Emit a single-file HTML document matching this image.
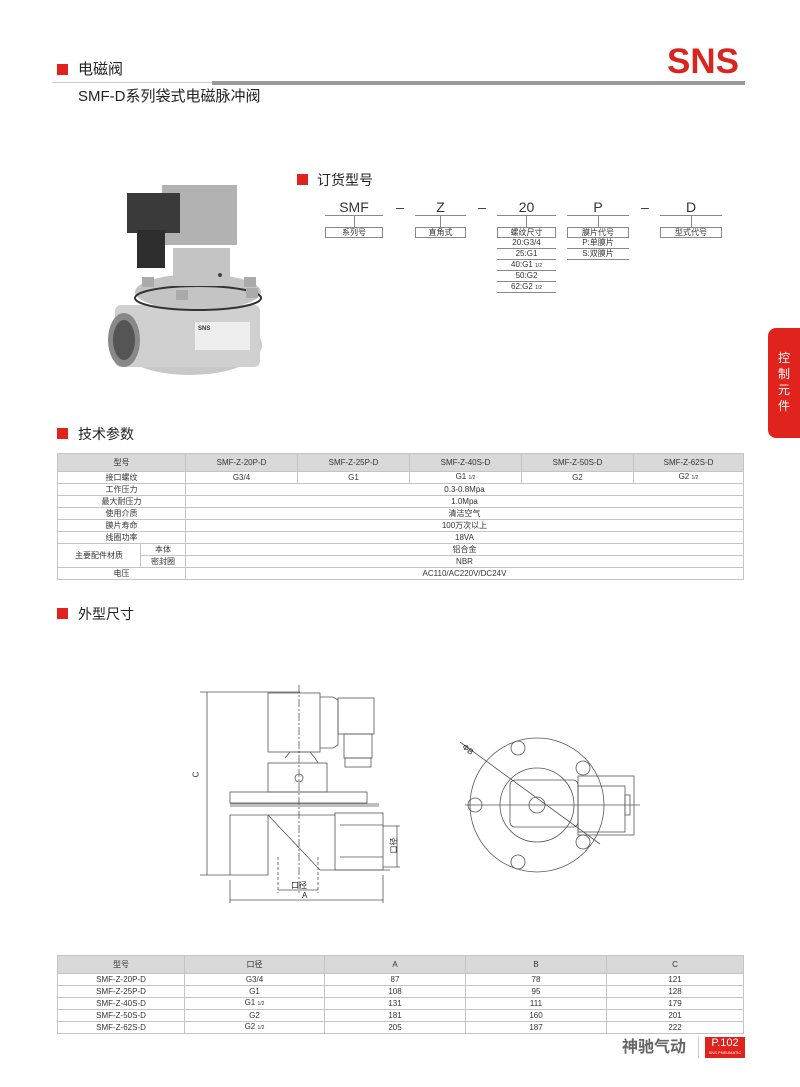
<!DOCTYPE html>
<html><head><meta charset="utf-8"><style>
*{margin:0;padding:0;box-sizing:border-box}
body{width:800px;height:1087px;background:#fff;position:relative;overflow:hidden;font-family:"Liberation Sans","Noto Sans CJK SC",sans-serif;color:#222}
.a{position:absolute}
.sq{position:absolute;width:11px;height:11px;background:#e0231d}
.t{position:absolute;font-size:14px;line-height:14px;color:#222}
table{position:absolute;border-collapse:collapse;font-size:8px;color:#333}
td{border:1px solid #c4c4c4;text-align:center;height:12px;padding:0;line-height:10px}
tr.h td{background:#d9d9d9;height:18px}
.sub{font-size:5px}
.box{position:absolute;height:11px;border:1px solid #888;font-size:8px;line-height:9px;text-align:center;color:#333}
.ul{position:absolute;height:1px;background:#888}
.ct{position:absolute;font-size:14px;text-align:center;color:#333;line-height:14px}
.it{position:absolute;font-size:8px;text-align:center;color:#333;line-height:10px;border-bottom:1px solid #888;height:11px}
</style></head><body>
<div class="sq" style="left:57px;top:64px"></div>
<div class="t" style="left:78px;top:63px;font-size:15px">电磁阀</div>
<div class="a" style="left:52px;top:82px;width:160px;height:1px;background:#ccc"></div>
<div class="a" style="left:212px;top:81px;width:533px;height:4px;background:#999"></div>
<div class="a" style="left:667px;top:44px;font-size:35px;font-weight:bold;color:#d8261f;line-height:36px">SNS</div>
<div class="t" style="left:78px;top:90px;font-size:15px">SMF-D系列袋式电磁脉冲阀</div>

<svg class="a" style="left:100px;top:175px" width="180" height="205" viewBox="100 175 180 205">
<ellipse cx="190" cy="345" rx="72" ry="30" fill="#c8c8c8"/>
<rect x="115" y="305" width="145" height="62" rx="6" fill="#d0d0d0"/>
<ellipse cx="124" cy="340" rx="16" ry="27" fill="#888"/>
<ellipse cx="124" cy="340" rx="11" ry="20" fill="#555"/>
<ellipse cx="198" cy="292" rx="63" ry="18" fill="#c4c4c4"/>
<ellipse cx="198" cy="298" rx="63" ry="12" fill="none" stroke="#333" stroke-width="2"/>
<rect x="173" y="248" width="57" height="38" fill="#c4c4c4"/>
<circle cx="220" cy="275" r="2" fill="#444"/>
<rect x="142" y="277" width="12" height="10" fill="#aaa"/><rect x="244" y="277" width="12" height="10" fill="#aaa"/>
<rect x="176" y="290" width="12" height="10" fill="#aaa"/><rect x="246" y="288" width="12" height="10" fill="#aaa"/>
<rect x="162" y="185" width="75" height="60" fill="#b2b2b2"/>
<rect x="127" y="193" width="53" height="40" fill="#3a3a3a"/>
<rect x="137" y="230" width="28" height="38" fill="#2e2e2e"/>
<rect x="195" y="322" width="55" height="28" fill="#eee"/>
<text x="198" y="330" font-size="6" fill="#333" font-weight="bold">SNS</text>
</svg>

<div class="sq" style="left:297px;top:174px"></div>
<div class="t" style="left:317px;top:173px">订货型号</div>
<div class="ct" style="left:325px;top:200px;width:58px">SMF</div><div class="ul" style="left:325px;top:215px;width:58px"></div>
<div class="ct" style="left:390px;top:200px;width:20px">–</div>
<div class="ct" style="left:415px;top:200px;width:51px">Z</div><div class="ul" style="left:415px;top:215px;width:51px"></div>
<div class="ct" style="left:472px;top:200px;width:20px">–</div>
<div class="ct" style="left:497px;top:200px;width:59px">20</div><div class="ul" style="left:497px;top:215px;width:59px"></div>
<div class="ct" style="left:567px;top:200px;width:62px">P</div><div class="ul" style="left:567px;top:215px;width:62px"></div>
<div class="ct" style="left:635px;top:200px;width:20px">–</div>
<div class="ct" style="left:660px;top:200px;width:62px">D</div><div class="ul" style="left:660px;top:215px;width:62px"></div>
<div class="a" style="left:354px;top:215px;width:1px;height:12px;background:#888"></div>
<div class="a" style="left:440px;top:215px;width:1px;height:12px;background:#888"></div>
<div class="a" style="left:526px;top:215px;width:1px;height:12px;background:#888"></div>
<div class="a" style="left:598px;top:215px;width:1px;height:12px;background:#888"></div>
<div class="a" style="left:691px;top:215px;width:1px;height:12px;background:#888"></div>
<div class="box" style="left:325px;top:227px;width:58px">系列号</div>
<div class="box" style="left:415px;top:227px;width:51px">直角式</div>
<div class="box" style="left:497px;top:227px;width:59px">螺纹尺寸</div>
<div class="box" style="left:567px;top:227px;width:62px">膜片代号</div>
<div class="box" style="left:660px;top:227px;width:62px">型式代号</div>
<div class="it" style="left:497px;top:238px;width:59px">20:G3/4</div>
<div class="it" style="left:497px;top:249px;width:59px">25:G1</div>
<div class="it" style="left:497px;top:260px;width:59px">40:G1 <span class="sub">1/2</span></div>
<div class="it" style="left:497px;top:271px;width:59px">50:G2</div>
<div class="it" style="left:497px;top:282px;width:59px">62:G2 <span class="sub">1/2</span></div>
<div class="it" style="left:567px;top:238px;width:62px">P:单膜片</div>
<div class="it" style="left:567px;top:249px;width:62px">S:双膜片</div>

<div class="a" style="left:768px;top:328px;width:32px;height:110px;background:#e0231d;border-radius:8px 0 0 8px;color:#fff;font-size:12px;line-height:16px;text-align:center;padding-top:22px;width:32px">控<br>制<br>元<br>件</div>

<div class="sq" style="left:57px;top:428px"></div>
<div class="t" style="left:78px;top:427px">技术参数</div>
<table style="left:57px;top:453px;width:687px">
<tr class="h"><td colspan="2" style="width:128px">型号</td><td style="width:112px">SMF-Z-20P-D</td><td style="width:112px">SMF-Z-25P-D</td><td style="width:112px">SMF-Z-40S-D</td><td style="width:112px">SMF-Z-50S-D</td><td>SMF-Z-62S-D</td></tr>
<tr><td colspan="2">接口螺纹</td><td>G3/4</td><td>G1</td><td>G1 <span class="sub">1/2</span></td><td>G2</td><td>G2 <span class="sub">1/2</span></td></tr>
<tr><td colspan="2">工作压力</td><td colspan="5">0.3-0.8Mpa</td></tr>
<tr><td colspan="2">最大耐压力</td><td colspan="5">1.0Mpa</td></tr>
<tr><td colspan="2">使用介质</td><td colspan="5">清洁空气</td></tr>
<tr><td colspan="2">膜片寿命</td><td colspan="5">100万次以上</td></tr>
<tr><td colspan="2">线圈功率</td><td colspan="5">18VA</td></tr>
<tr><td rowspan="2" style="width:83px">主要配件材质</td><td style="width:45px">本体</td><td colspan="5">铝合金</td></tr>
<tr><td>密封圈</td><td colspan="5">NBR</td></tr>
<tr><td colspan="2">电压</td><td colspan="5">AC110/AC220V/DC24V</td></tr>
</table>

<div class="sq" style="left:57px;top:608px"></div>
<div class="t" style="left:78px;top:607px">外型尺寸</div>

<svg class="a" style="left:0;top:0" width="800" height="1087" fill="none" stroke="#555" stroke-width="0.8">
<line x1="200" y1="692" x2="300" y2="692"/><line x1="200" y1="875" x2="230" y2="875"/>
<line x1="207" y1="692" x2="207" y2="875"/>
<rect x="268" y="693" width="52" height="59"/>
<polyline points="320,697 333,697 338,700 338,745 333,748 320,748"/>
<rect x="338" y="698" width="36" height="36"/>
<rect x="344" y="734" width="28" height="24"/>
<rect x="345" y="758" width="26" height="9"/>
<polyline points="285,758 290,752 310,752 315,758 318,763"/>
<rect x="268" y="763" width="59" height="29"/>
<circle cx="299" cy="778" r="4"/>
<rect x="230" y="792" width="137" height="11"/>
<line x1="230" y1="804" x2="379" y2="804"/><line x1="230" y1="806" x2="379" y2="806"/>
<line x1="230" y1="815" x2="335" y2="815"/>
<polyline points="230,815 230,875 268,875 268,815"/>
<polyline points="268,815 320,870 390,870"/>
<rect x="335" y="813" width="48" height="57"/>
<line x1="340" y1="825" x2="383" y2="825"/><line x1="340" y1="857" x2="383" y2="857"/>
<line x1="299" y1="685" x2="299" y2="895" stroke-dasharray="8,2,2,2"/>
<line x1="383" y1="826" x2="400" y2="826"/><line x1="383" y1="867" x2="400" y2="867"/>
<line x1="397" y1="826" x2="397" y2="867"/>
<line x1="230" y1="880" x2="230" y2="903"/><line x1="383" y1="875" x2="383" y2="903"/>
<line x1="230" y1="900" x2="383" y2="900"/>
<line x1="278" y1="857" x2="278" y2="893" stroke-dasharray="3,2"/><line x1="318" y1="857" x2="318" y2="893" stroke-dasharray="3,2"/>
<line x1="278" y1="890" x2="318" y2="890"/>
<circle cx="537" cy="805" r="67"/>
<circle cx="537" cy="805" r="37"/>
<rect x="510" y="780" width="68" height="47" rx="5"/>
<rect x="578" y="786" width="47" height="46"/>
<rect x="578" y="776" width="56" height="59"/>
<rect x="625" y="795" width="5" height="20"/>
<circle cx="537" cy="805" r="8"/>
<line x1="465" y1="805" x2="640" y2="805"/>
<line x1="460" y1="742" x2="600" y2="844"/>
<circle cx="518" cy="748" r="7"/><circle cx="583" cy="768" r="7"/><circle cx="475" cy="805" r="7"/><circle cx="583" cy="842" r="7"/><circle cx="518" cy="862" r="7"/>
</svg>
<div class="a" style="left:193px;top:770px;font-size:8px;transform:rotate(-90deg)">C</div>
<div class="a" style="left:386px;top:840px;font-size:8px;transform:rotate(-90deg)">口径</div>
<div class="a" style="left:291px;top:880px;font-size:8px">口径</div>
<div class="a" style="left:302px;top:891px;font-size:8px">A</div>
<div class="a" style="left:462px;top:745px;font-size:8px;transform:rotate(40deg)">ΦB</div>

<table style="left:57px;top:955px;width:687px">
<tr class="h" style="height:15px"><td style="width:127px;height:15px">型号</td><td style="width:140px">口径</td><td style="width:141px">A</td><td style="width:141px">B</td><td>C</td></tr>
<tr><td>SMF-Z-20P-D</td><td>G3/4</td><td>87</td><td>78</td><td>121</td></tr>
<tr><td>SMF-Z-25P-D</td><td>G1</td><td>108</td><td>95</td><td>128</td></tr>
<tr><td>SMF-Z-40S-D</td><td>G1 <span class="sub">1/2</span></td><td>131</td><td>111</td><td>179</td></tr>
<tr><td>SMF-Z-50S-D</td><td>G2</td><td>181</td><td>160</td><td>201</td></tr>
<tr><td>SMF-Z-62S-D</td><td>G2 <span class="sub">1/2</span></td><td>205</td><td>187</td><td>222</td></tr>
</table>

<div class="a" style="left:622px;top:1039px;font-size:16px;font-weight:bold;color:#666;line-height:18px">神驰气动</div>
<div class="a" style="left:698px;top:1036px;width:1px;height:22px;background:#ccc"></div>
<div class="a" style="left:705px;top:1037px;width:40px;height:21px;background:#e0231d;color:#fff;font-size:11px;line-height:13px;text-align:center">P.102<div style="font-size:4px;line-height:5px">SNS PNEUMATIC</div></div>
</body></html>
